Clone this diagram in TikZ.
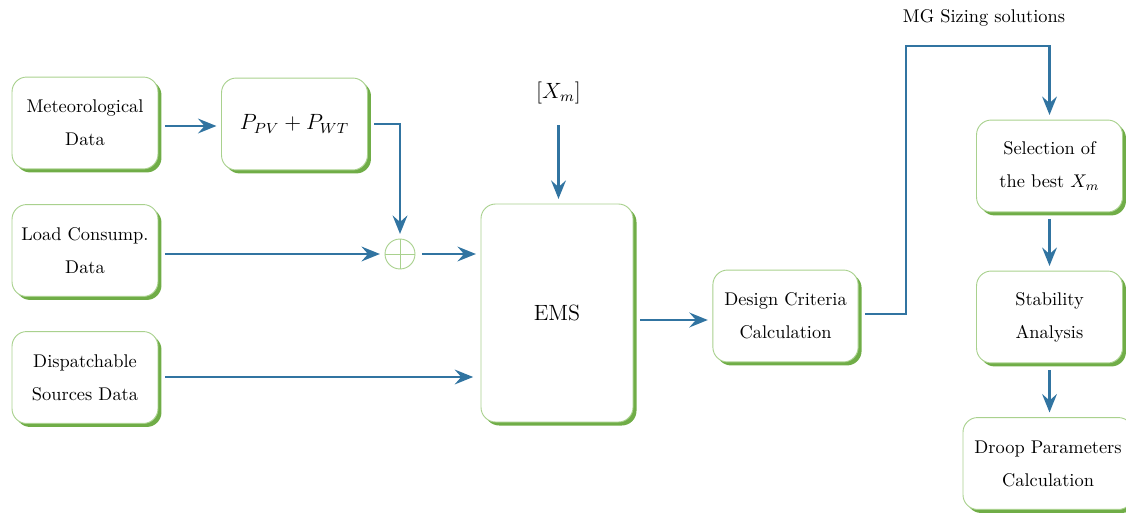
\documentclass[tikz,border=0pt]{standalone}
\usetikzlibrary{arrows.meta,shadows}
\definecolor{lineblue}{RGB}{49,116,161}
\definecolor{sgreen}{RGB}{112,173,71}
\definecolor{bgreen}{RGB}{169,209,142}
\begin{document}
\begin{tikzpicture}[x=0.544pt,y=-0.544pt,
  blk/.style={draw=bgreen, line width=0.5pt, fill=white, rounded corners=8pt,
    align=center, minimum width=79.4pt, minimum height=50pt, inner sep=2pt,
    general shadow={fill=sgreen, shadow xshift=1.9pt, shadow yshift=-1.9pt}},
  arr/.style={draw=lineblue, line width=1.6pt,
    -{Stealth[length=10pt,width=8pt,inset=3.5pt]}, shorten <=3.5pt, shorten >=2.5pt}]
\path[use as bounding box] (0,0) rectangle (1126,513);

\node[blk] (met) at (85,123) {Meteorological\\[6pt]Data};
\node[blk] (pp) at (294.5,124) {\large $P_{PV}+P_{WT}$};
\node[blk] (load) at (85,250.5) {Load Consump.\\[6pt]Data};
\node[blk] (disp) at (85,377.5) {Dispatchable\\[6pt]Sources Data};
\node[draw=bgreen, line width=0.5pt, circle, minimum size=16.3pt, inner sep=0pt] (sum) at (400,254) {};
\draw[bgreen, line width=0.5pt] (sum.north) -- (sum.south) (sum.west) -- (sum.east);
\node[blk, minimum width=82.7pt, minimum height=118.6pt, font=\large] (ems) at (557,313) {EMS};
\node[font=\large] (xm) at (558.5,93) {$[X_m]$};
\node[blk, minimum width=79pt] (dc) at (785.5,316) {Design Criteria\\[6pt]Calculation};
\node[blk] (sel) at (1049.5,166) {Selection of\\[6pt]the best $X_m$};
\node[blk] (stab) at (1049.5,317) {Stability\\[6pt]Analysis};
\node[blk, minimum width=92.5pt] (droop) at (1048,463.5) {Droop Parameters\\[6pt]Calculation};
\node (mg) at (984,18) {MG Sizing solutions};

\coordinate (turn) at (906,46);

\draw[arr] (met.east |- 0,126) -- (pp.west |- 0,126);
\draw[arr] (pp.east) -| (sum.north);
\draw[arr] (load.east |- sum.west) -- (sum.west);
\draw[arr] (sum.east) -- (ems.west |- sum.east);
\draw[arr, shorten >=4pt] (disp.east |- 0,377) -- (ems.west |- 0,377);
\draw[arr, shorten <=8pt] (xm.south) -- (xm.south |- ems.north);
\draw[arr] (ems.east |- 0,320) -- (dc.west |- 0,320);
\draw[arr] (dc.east |- 0,314) -| (turn) -| (sel.north);
\draw[arr] (sel.south) -- (stab.north);
\draw[arr] (stab.south) -- (stab.south |- droop.north);
\end{tikzpicture}
\end{document}
